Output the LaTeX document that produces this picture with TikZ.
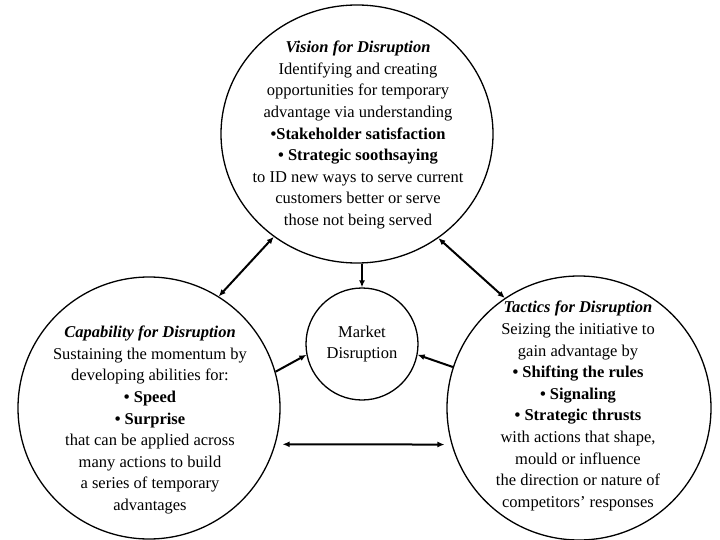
\documentclass[tikz,border=0pt]{standalone}
\usepackage{fontspec}
\setmainfont{Liberation Serif}
\usetikzlibrary{arrows.meta, shapes.geometric}
\begin{document}
\begin{tikzpicture}[x=1pt, y=-1pt,
  ring/.style={draw, line width=1.3pt, circle, minimum size=#1},
  blurb/.style={align=center, font=\fontsize{16.5}{21.6}\selectfont, inner sep=0pt},
  link/.style={line width=2pt, -{Latex[length=7pt,width=6pt]}},
  both/.style={line width=2pt, {Latex[length=7pt,width=6pt]}-{Latex[length=7pt,width=6pt]}}]
  \useasboundingbox (0,0) rectangle (720,540);
  % the three rings and the small one in the middle
  \node[draw, line width=1.3pt, ellipse, minimum width=272pt, minimum height=258pt] (vision) at (357,134) {};
  \node[ring=262pt] (cap) at (149,408) {};
  \node[ring=264pt] (tac) at (579,408) {};
  \node[ring=112pt, blurb] (market) at (362,344) {Market\\Disruption};
  % texts
  \node[blurb] (visiontext) at (358,135) {\textbf{\textit{Vision for Disruption}}\\
    Identifying and creating\\
    opportunities for temporary\\
    advantage via understanding\\
    \textbf{•Stakeholder satisfaction}\\
    \textbf{• Strategic soothsaying}\\
    to ID new ways to serve current\\
    customers better or serve\\
    those not being served};
  \node[blurb] (captext) at (150,420) {\textbf{\textit{Capability for Disruption}}\\
    Sustaining the momentum by\\
    developing abilities for:\\
    \textbf{• Speed}\\
    \textbf{• Surprise}\\
    that can be applied across\\
    many actions to build\\
    a series of temporary\\
    advantages};
  \node[blurb] (tactext) at (578,406) {\textbf{\textit{Tactics for Disruption}}\\
    Seizing the initiative to\\
    gain advantage by\\
    \textbf{• Shifting the rules}\\
    \textbf{• Signaling}\\
    \textbf{• Strategic thrusts}\\
    with actions that shape,\\
    mould or influence\\
    the direction or nature of\\
    competitors’ responses};
  % arrows
  \draw[both] (vision.231) -- (cap.58);
  \draw[both] (vision.308) -- (tac.124);
  \draw[link] (vision.south -| market.north) -- (market.north);
  \draw[link] (cap.16) -- (market.191);
  \draw[link] (tac.162) -- (market.349);
  \draw[both, shorten <=7pt, shorten >=7pt] (cap.-16) -- (tac.196);
\end{tikzpicture}
\end{document}
